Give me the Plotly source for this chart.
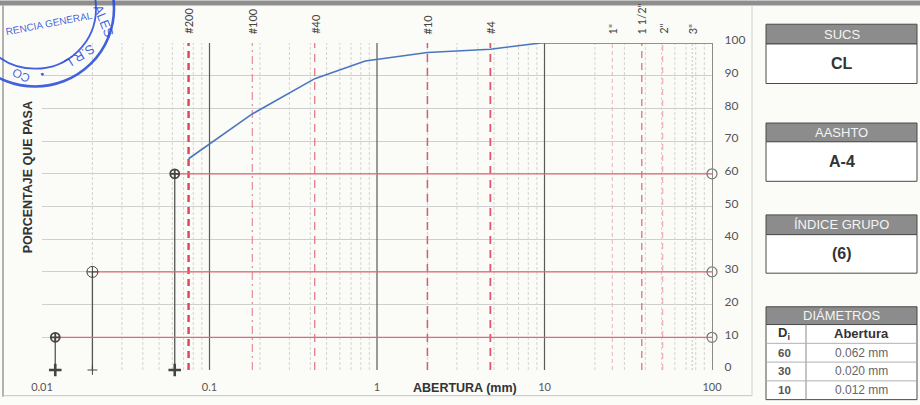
import math
import plotly.graph_objects as go

# ---- grain size distribution (abertura in mm, % que pasa) ----
abertura_mm = [0.075, 0.18, 0.425, 0.85, 2.0, 4.75, 9.5, 19.0, 25.4, 38.1, 50.8, 76.2, 101.6]
pct_pasa = [64.6, 78.3, 89.1, 94.5, 97.1, 98.1, 100, 100, 100, 100, 100, 100, 100]

# sieves marked on the chart
tamiz_nombre = ["#200", "#100", "#40", "#10", "#4", '1"', '1 1/2"', '2"', '3"']
tamiz_mm = [0.075, 0.18, 0.425, 2.0, 4.75, 25.4, 38.1, 50.8, 76.2]

# characteristic diameters
d_pct = [60, 30, 10]
d_mm = [0.062, 0.020, 0.012]
d_texto = ["0.062 mm", "0.020 mm", "0.012 mm"]

# classification
sucs = "CL"
aashto = "A-4"
indice_grupo = "(6)"

x_ticks = [0.01, 0.1, 1, 10, 100]
x_tick_text = ["0.01", "0.1", "1", "10", "100"]
y_ticks = list(range(0, 101, 10))

# ---- page geometry (pixels) ----
W, H = 920, 405
ML, MR, MT, MB = 42, 208, 43, 31
PW, PH = W - ML - MR, H - MT - MB


def px(x):
    return (x - ML) / PW


def py(y):
    return (H - MB - y) / PH


def note(x, y, text, font, angle=0, xanchor="center", yanchor="middle"):
    return dict(x=px(x), y=py(y), xref="paper", yref="paper", text=text,
                showarrow=False, textangle=angle, xanchor=xanchor, yanchor=yanchor,
                font=font)


fig = go.Figure()

# vertical minor grid
minor = [m * 10 ** e for e in range(-2, 2) for m in range(2, 10)]
xs, ys = [], []
for v in minor:
    xs += [v, v, None]
    ys += [0, 100, None]
fig.add_trace(go.Scatter(x=xs, y=ys, mode="lines", hoverinfo="skip",
                         line=dict(color="#d4d4d4", width=1, dash="3px,2px")))

# decade lines
xs, ys = [], []
for v in x_ticks[1:-1]:
    xs += [v, v, None]
    ys += [0, 100, None]
fig.add_trace(go.Scatter(x=xs, y=ys, mode="lines", hoverinfo="skip",
                         line=dict(color="#5a5a5a", width=1.2)))

# sieve lines
sieve_style = {
    "#200": dict(color="#d9465a", width=2.4, dash="7px,5px"),
    "#100": dict(color="#e07885", width=1, dash="8px,4px,2px,4px"),
    "#40": dict(color="#df6575", width=1.1, dash="8px,6px"),
    "#10": dict(color="#dc5a6b", width=1.5, dash="8px,6px"),
    "#4": dict(color="#dc5a6b", width=1.8, dash="8px,6px"),
    '1"': dict(color="#e8b4bc", width=1, dash="4px,3px"),
    '1 1/2"': dict(color="#e07080", width=1.3, dash="7px,5px"),
    '2"': dict(color="#eaa0aa", width=1, dash="6px,5px"),
    '3"': dict(color="#c8c0c0", width=1, dash="2px,2px"),
}
for name, v in zip(tamiz_nombre, tamiz_mm):
    fig.add_trace(go.Scatter(x=[v, v], y=[0, 100], mode="lines", hoverinfo="skip",
                             line=sieve_style[name]))

# D-lines: horizontal red from the diameter to the right axis, vertical drop line
for p, d in zip(d_pct, d_mm):
    fig.add_trace(go.Scatter(x=[d, 100], y=[p, p], mode="lines", hoverinfo="skip",
                             line=dict(color="#e06878", width=1.3)))
    fig.add_trace(go.Scatter(x=[d, d], y=[0, p], mode="lines", hoverinfo="skip",
                             line=dict(color="#555555", width=1.3)))

# markers on D-lines
dark = "#444444"
bold = {60: True, 30: False, 10: True}
for p, d in zip(d_pct, d_mm):
    b = bold[p]
    fig.add_trace(go.Scatter(
        x=[d], y=[p], mode="markers", cliponaxis=False, hoverinfo="skip",
        marker=dict(symbol="circle-cross-open", size=9 if b else 11, color=dark,
                    line=dict(width=1.8 if b else 1, color=dark))))
    fig.add_trace(go.Scatter(
        x=[d], y=[0], mode="markers", cliponaxis=False, hoverinfo="skip",
        marker=dict(symbol="cross-thin-open", size=9 if b else 7, color=dark,
                    line=dict(width=2.6 if b else 1, color=dark))))
fig.add_trace(go.Scatter(
    x=[100] * len(d_pct), y=d_pct, mode="markers", cliponaxis=False, hoverinfo="skip",
    marker=dict(symbol="circle-open", size=10, color="#777777",
                line=dict(width=1.2, color="#777777"))))

# grading curve
fig.add_trace(go.Scatter(x=abertura_mm, y=pct_pasa, mode="lines", hoverinfo="skip",
                         line=dict(color="#4a76bf", width=1.6)))

annotations = []
shapes = []

# sieve names along the top
for name, v in zip(tamiz_nombre, tamiz_mm):
    annotations.append(dict(
        x=math.log10(v), xref="x", y=py(36), yref="paper", text=name, showarrow=False,
        textangle=-90, xanchor="center", yanchor="bottom",
        font=dict(family="Lato", size=11, color="#444444")))

# axis titles
annotations.append(note(465, 392, "<b>ABERTURA (mm)</b>",
                        dict(family="Liberation Sans", size=12.5, color="#333333")))
annotations.append(note(28, 179, "<b>PORCENTAJE QUE PASA</b>",
                        dict(family="Liberation Sans", size=12.5, color="#333333"), angle=-90))

# ---- frame lines ----
frame = "#9a9a9a"
shapes.append(dict(type="rect", xref="paper", yref="paper", x0=px(0), x1=px(W),
                   y0=py(0), y1=py(5), fillcolor="#8e8e8e", line=dict(width=0), layer="below"))
shapes.append(dict(type="line", xref="paper", yref="paper", x0=px(3), x1=px(3),
                   y0=py(5), y1=py(401), line=dict(color=frame, width=1.5)))
shapes.append(dict(type="line", xref="paper", yref="paper", x0=px(3), x1=px(752),
                   y0=py(400), y1=py(400), line=dict(color="#c4c4c4", width=1)))
shapes.append(dict(type="line", xref="paper", yref="paper", x0=px(752), x1=px(752),
                   y0=py(5), y1=py(400), line=dict(color="#d0d0d0", width=1)))

# ---- classification panels ----
X0, X1 = 766, 917
XC = (X0 + X1) / 2
head_fill = "#8c8c8c"
box_line = "#4a4a4a"
head_font = dict(family="Liberation Sans", size=13, color="#f4f4f4")
value_font = dict(family="Liberation Sans", size=16, color="#333333")


def panel(y_top, y_mid, y_bot, title, value):
    shapes.append(dict(type="rect", xref="paper", yref="paper", x0=px(X0), x1=px(X1),
                       y0=py(y_mid), y1=py(y_top), fillcolor=head_fill,
                       line=dict(color=box_line, width=1)))
    shapes.append(dict(type="rect", xref="paper", yref="paper", x0=px(X0), x1=px(X1),
                       y0=py(y_bot), y1=py(y_mid), fillcolor="#ffffff",
                       line=dict(color=box_line, width=1)))
    annotations.append(note(XC, (y_top + y_mid) / 2, title, head_font))
    annotations.append(note(XC, (y_mid + y_bot) / 2, "<b>" + value + "</b>", value_font))


panel(24, 44, 84, "SUCS", sucs)
panel(124, 143, 183, "AASHTO", aashto)
panel(217, 237, 276, "ÍNDICE GRUPO", indice_grupo)

# diameters table
T_TOP, T_HEAD = 310, 328
ROW_H = 19
COL = 806
shapes.append(dict(type="rect", xref="paper", yref="paper", x0=px(X0), x1=px(X1),
                   y0=py(T_HEAD), y1=py(T_TOP), fillcolor=head_fill,
                   line=dict(color=box_line, width=1)))
annotations.append(note(XC, (T_TOP + T_HEAD) / 2, "DIÁMETROS", head_font))
rows = [("D<sub>i</sub>", "Abertura", True)] + [(str(p), t, False) for p, t in zip(d_pct, d_texto)]
y_end = min(T_HEAD + ROW_H * len(rows), 404)
shapes.append(dict(type="rect", xref="paper", yref="paper", x0=px(X0), x1=px(X1),
                   y0=py(y_end), y1=py(T_HEAD), fillcolor="#ffffff",
                   line=dict(color=box_line, width=1)))
shapes.append(dict(type="line", xref="paper", yref="paper", x0=px(COL), x1=px(COL),
                   y0=py(T_HEAD), y1=py(y_end), line=dict(color="#888888", width=1)))
for i, (a, b, hdr) in enumerate(rows):
    yt = T_HEAD + i * ROW_H
    if i > 0:
        shapes.append(dict(type="line", xref="paper", yref="paper", x0=px(X0), x1=px(X1),
                           y0=py(yt), y1=py(yt), line=dict(color="#b0b0b0", width=1)))
    yc = yt + ROW_H / 2
    if hdr:
        fa = dict(family="Liberation Sans", size=13, color="#333333")
        fb = dict(family="Liberation Sans", size=13, color="#333333")
        ta, tb = "<b>" + a + "</b>", "<b>" + b + "</b>"
    else:
        fa = dict(family="Liberation Sans", size=11.5, color="#555555")
        fb = dict(family="Liberation Sans Narrow, Liberation Sans", size=12, color="#666666")
        ta, tb = "<b>" + a + "</b>", b
    annotations.append(note((X0 + COL) / 2 - 2, yc, ta, fa))
    annotations.append(note((COL + X1) / 2, yc, tb, fb))

# ---- company stamp (blue ink) ----
ink = "rgba(40,75,215,0.88)"
cx, cy = 35, 8
for r, w in [(79, 2.6), (61, 1.8)]:
    shapes.append(dict(type="circle", xref="paper", yref="paper",
                       x0=px(cx - r), x1=px(cx + r), y0=py(cy + r), y1=py(cy - r),
                       line=dict(color=ink, width=w)))
stamp_text = [("RENCIA GENERAL", 49, 23, -11, 10), ("ALES", 104, 21, 68, 13),
              ("S.R.L.", 78, 57, 148, 13), ("CO", 21, 76, 205, 12)]
for t, x, y, ang, s in stamp_text:
    annotations.append(note(x, y, t, dict(family="Liberation Sans", size=s, color=ink),
                            angle=ang))
annotations.append(note(42, 74, "●", dict(size=7, color=ink)))

fig.update_layout(
    width=W, height=H,
    margin=dict(l=ML, r=MR, t=MT, b=MB, pad=0),
    paper_bgcolor="#fbfbf8", plot_bgcolor="#fbfbf8",
    showlegend=False,
    xaxis=dict(type="log", range=[-2, 2], tickvals=x_ticks, ticktext=x_tick_text,
               showgrid=False, zeroline=False, showline=False, ticks="",
               ticklabelstandoff=9,
               tickfont=dict(family="Lato", size=11, color="#555555")),
    yaxis=dict(range=[0, 100], side="right", tickvals=y_ticks, showgrid=True,
               gridcolor="#cfcfcf", gridwidth=1, zeroline=False, showline=True,
               linecolor="#8a8a8a", linewidth=1.2, ticks="", ticklabelstandoff=9,
               ticklabelshift=-3,
               tickfont=dict(family="Lato", size=12, color="#555555")),
    annotations=annotations,
    shapes=shapes,
)

fig.write_html("out.html")
